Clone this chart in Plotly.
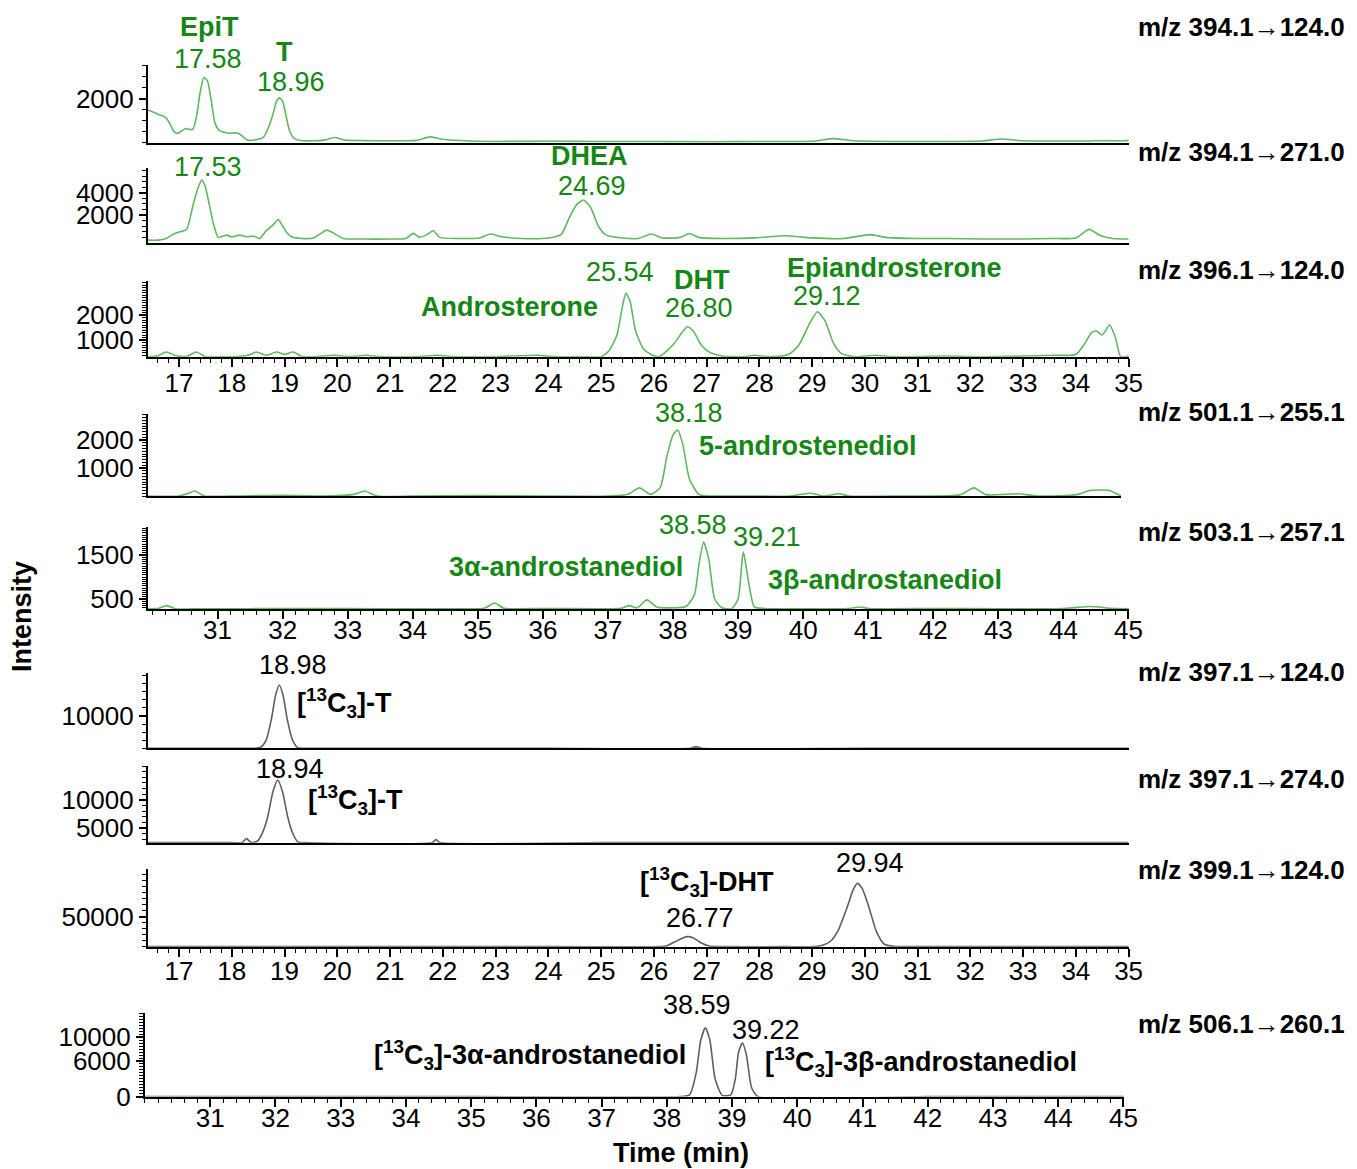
import plotly.graph_objects as go

# Reference picture size and how the page is photographed (body margin + slight downscale)
W, H = 1357, 1169
PAD = 8
CAP_W, CAP_H = 1370, 1184
SX, SY = W / CAP_W, H / CAP_H
FW, FH = CAP_W - 2 * PAD, CAP_H - 2 * PAD

# ---------------- data (time in min, intensity) ----------------
t1 = [16.41,16.55,16.64,16.73,16.82,16.90,16.98,17.06,17.13,17.20,17.26,17.33,17.40,17.47,17.54,17.61,17.68,17.76,17.85,17.95,18.05,18.12,18.20,18.30,18.45,18.60,18.70,18.78,18.85,18.90,18.96,19.03,19.10,19.18,19.30,19.50,19.75,19.95,20.15,20.50,21.00,21.50,21.75,22.00,22.50,23.00,24.00,25.00,26.00,27.00,28.00,29.00,29.40,29.80,30.50,31.50,32.20,32.60,33.00,33.70,34.20,34.60,34.90,35.00]
i1 = [1490,1350,1260,1180,900,520,430,560,650,600,620,1180,2300,2970,2800,1900,900,560,480,430,450,430,300,120,140,260,730,1300,1900,2040,1900,1200,500,200,100,90,120,240,120,100,90,110,270,160,80,60,70,60,60,50,60,70,190,90,60,60,80,170,90,80,80,100,90,110]

t2 = [16.41,16.60,16.76,16.90,17.02,17.14,17.27,17.35,17.43,17.50,17.57,17.65,17.74,17.82,17.90,18.00,18.15,18.28,18.41,18.53,18.66,18.78,18.88,18.97,19.05,19.13,19.32,19.55,19.80,19.92,20.11,20.50,21.00,21.30,21.44,21.56,21.70,21.82,21.94,22.30,22.70,22.90,23.10,23.50,24.00,24.25,24.40,24.55,24.67,24.80,24.95,25.10,25.40,25.70,25.96,26.15,26.50,26.68,26.85,27.30,27.90,28.50,29.00,29.60,30.10,30.40,31.00,31.60,32.20,32.60,33.00,33.50,34.00,34.25,34.45,34.70,35.00]
i2 = [-250,-250,-100,300,500,700,3000,4300,5140,4500,3000,1250,0,100,200,50,200,50,120,-100,650,1100,1600,950,400,50,-100,-50,650,410,-100,-150,-150,-100,360,0,250,590,0,-100,-50,300,80,-100,-50,300,1800,3000,3345,2700,1000,200,-50,-100,300,-50,0,350,0,-100,-50,150,-50,-100,250,0,-100,-100,-150,-150,-150,-100,-50,720,200,-100,-150]

t3 = [16.41,16.60,16.76,16.95,17.15,17.33,17.50,17.80,18.10,18.30,18.47,18.65,18.85,19.00,19.16,19.35,19.95,20.20,20.55,20.80,21.50,21.90,22.20,23.00,23.80,24.10,24.60,25.00,25.15,25.30,25.40,25.47,25.55,25.65,25.80,25.95,26.10,26.25,26.40,26.55,26.64,26.75,26.90,27.05,27.30,27.70,27.90,28.20,28.55,28.75,28.95,29.10,29.25,29.40,29.55,29.80,30.20,30.50,31.00,31.50,32.00,32.50,33.00,33.60,34.00,34.15,34.30,34.39,34.50,34.64,34.75,34.85,35.00]
i3 = [335,370,520,370,350,520,335,335,335,390,520,390,520,420,520,335,390,335,390,335,335,390,335,335,390,335,335,335,570,1200,2300,2868,2550,1400,650,420,335,570,900,1350,1532,1350,800,520,360,335,390,335,420,800,1650,2132,1750,900,470,335,390,335,335,360,335,335,360,390,420,800,1300,1360,1200,1600,1100,335,360]

t4 = [29.93,30.40,30.55,30.65,30.80,31.20,32.00,32.60,33.10,33.26,33.45,34.00,35.00,36.00,37.00,37.30,37.48,37.65,37.80,37.90,38.00,38.07,38.15,38.25,38.40,38.70,39.20,39.80,40.10,40.20,40.30,40.55,40.70,41.50,42.40,42.62,42.80,43.31,43.60,44.20,44.40,44.55,44.70,44.88]
i4 = [0,0,100,180,0,0,30,0,60,180,0,0,20,0,0,60,290,60,300,1400,2200,2357,1800,600,50,0,0,0,100,60,0,80,0,0,40,290,50,80,0,50,200,215,200,0]

t5 = [29.93,30.10,30.22,30.35,30.60,31.50,32.50,33.50,34.50,35.10,35.26,35.40,36.00,36.80,37.20,37.33,37.45,37.60,37.75,38.00,38.20,38.33,38.40,38.47,38.55,38.64,38.75,38.90,39.00,39.08,39.16,39.25,39.40,40.00,40.70,40.86,41.00,42.00,43.00,44.00,44.40,44.55,44.70,45.00]
i5 = [280,290,350,280,275,280,285,280,280,290,410,290,285,280,290,350,300,480,320,300,330,600,1300,1795,1400,500,300,280,500,1570,900,320,285,280,285,320,285,285,280,285,330,320,290,280]

t6 = [16.41,18.00,18.45,18.55,18.65,18.75,18.83,18.90,18.97,19.05,19.15,19.25,19.40,21.00,24.00,26.70,26.80,26.90,30.00,33.00,35.00]
i6 = [0,0,0,300,2500,9000,16500,19600,16500,9000,2500,200,0,0,0,0,500,0,0,0,0]

t7 = [16.41,18.00,18.20,18.28,18.36,18.48,18.58,18.68,18.78,18.87,18.96,19.06,19.15,19.25,19.40,21.80,21.87,21.95,25.00,30.00,35.00]
i7 = [2460,2460,2500,3200,2500,2700,4200,7000,11500,13530,11500,7000,4200,2600,2460,2460,3000,2460,2460,2460,2460]

t8 = [16.41,20.00,24.00,26.10,26.25,26.40,26.55,26.64,26.75,26.90,27.05,27.30,28.50,29.05,29.20,29.35,29.50,29.65,29.78,29.86,29.95,30.08,30.22,30.37,30.55,31.00,35.00]
i8 = [0,0,0,0,1500,8000,14500,16700,14500,6000,1000,0,0,0,2500,9000,28000,62000,95000,105700,97000,65000,25000,4000,500,0,0]

t9 = [30.0,35.0,38.20,38.35,38.45,38.52,38.59,38.66,38.74,38.85,38.98,39.05,39.10,39.16,39.22,39.30,39.40,42.0,45.0]
i9 = [0,0,0,300,4000,9500,11570,9500,3000,200,300,3000,7500,9040,7000,1500,0,0,0]

transitions = ["m/z 394.1→124.0", "m/z 394.1→271.0", "m/z 396.1→124.0",
               "m/z 501.1→255.1", "m/z 503.1→257.1", "m/z 397.1→124.0",
               "m/z 397.1→274.0", "m/z 399.1→124.0", "m/z 506.1→260.1"]

x_ticks_a = [17,18,19,20,21,22,23,24,25,26,27,28,29,30,31,32,33,34,35]
x_ticks_b = [31,32,33,34,35,36,37,38,39,40,41,42,43,44,45]

y_ticks = [[2000],[2000,4000],[1000,2000],[1000,2000],[500,1500],
           [10000],[5000,10000],[50000],[0,6000,10000]]

# ---------------- layout config ----------------
def px(x): return (x / SX - PAD) / FW
def py(y): return 1 - (y / SY - PAD) / FH

GREEN_LINE = "rgb(95,185,95)"
GREEN_TXT = "rgb(20,135,20)"
GRAY_LINE = "rgb(95,95,95)"
FONT = "Liberation Sans, Arial, sans-serif"
TXT = 27
TICK = 26

series = [(t1,i1),(t2,i2),(t3,i3),(t4,i4),(t5,i5),(t6,i6),(t7,i7),(t8,i8),(t9,i9)]
colors = [GREEN_LINE]*5 + [GRAY_LINE]*4
# (x_left, x_right, y_top, y_bottom) in reference pixels
boxes = [(148,1130,65,142.7),(148,1130,168.3,242.7),(148,1130,280.7,356.7),
         (148,1122,414,496),(148,1130,527,609),(148,1130,672.7,748.3),
         (148,1130,766,842.7),(148,1130,869.3,946.7),(145,1125,1013.3,1096.7)]
xranges = [[16.41,35.01]]*3 + [[29.93,44.88],[29.93,45.01]] + [[16.41,35.01]]*3 + [[30,45.01]]
yranges = [[0,3530],[-484,6190],[332,3372],[0,2930],[273,2136],
           [0,23400],[2456,16007],[0,129000],[0,14040]]
yminor = [500,500,100,100,50,2500,1000,10000,500]
xlabeled = [False,False,True,False,True,False,False,True,True]
xstandoff = [0,0,-6,0,-11,0,0,-8,-11]

fig = go.Figure()
layout = dict(width=FW, height=FH, margin=dict(l=0,r=0,t=0,b=0),
              paper_bgcolor="white", plot_bgcolor="white", showlegend=False,
              font=dict(family=FONT, size=TICK, color="black"))

for k in range(9):
    n = k + 1
    xs = "" if n == 1 else str(n)
    t, v = series[k]
    fig.add_trace(go.Scatter(x=t, y=v, mode="lines", xaxis="x"+xs, yaxis="y"+xs,
                             line=dict(color=colors[k], width=1.6, shape="spline", smoothing=0.6),
                             hoverinfo="skip", cliponaxis=True))
    l, r, tp, bt = boxes[k]
    xa = dict(domain=[px(l), px(r)], range=xranges[k], anchor="y"+xs,
              showline=True, linecolor="black", linewidth=2, showgrid=False, zeroline=False)
    if xlabeled[k]:
        tv = x_ticks_a if xranges[k][0] < 20 else x_ticks_b
        xa.update(tickmode="array", tickvals=tv, ticks="outside", ticklen=8, tickwidth=1.5,
                  tickcolor="black", tickfont=dict(size=TICK, color="black"),
                  ticklabelstandoff=xstandoff[k],
                  minor=dict(dtick=0.2, tick0=0, ticks="outside", ticklen=4, tickcolor="black", tickwidth=1))
    else:
        xa.update(showticklabels=False, ticks="")
    ya = dict(domain=[py(bt), py(tp)], range=yranges[k], anchor="x"+xs,
              showline=True, linecolor="black", linewidth=2, showgrid=False, zeroline=False,
              tickmode="array", tickvals=y_ticks[k], tickformat="d",
              ticks="outside", ticklen=7, tickwidth=1.5,
              tickcolor="black", tickfont=dict(size=TICK, color="black"),
              minor=dict(dtick=yminor[k], tick0=0, ticks="outside", ticklen=4, tickcolor="black", tickwidth=1))
    layout["xaxis"+xs] = xa
    layout["yaxis"+xs] = ya

fig.update_layout(**layout)

C13 = "[<sup>13</sup>C<sub>3</sub>]"
labels = [
    ("<b>EpiT</b>", 210, 27, GREEN_TXT), ("17.58", 208, 59, GREEN_TXT),
    ("<b>T</b>", 285, 52, GREEN_TXT), ("18.96", 291, 82, GREEN_TXT),
    ("17.53", 208, 167, GREEN_TXT), ("<b>DHEA</b>", 590, 156, GREEN_TXT), ("24.69", 592, 186, GREEN_TXT),
    ("25.54", 620, 272, GREEN_TXT), ("<b>DHT</b>", 703, 280, GREEN_TXT), ("26.80", 700, 308, GREEN_TXT),
    ("<b>Androsterone</b>", 510, 307, GREEN_TXT), ("<b>Epiandrosterone</b>", 895, 268, GREEN_TXT),
    ("29.12", 828, 296, GREEN_TXT),
    ("38.18", 690, 413, GREEN_TXT), ("<b>5-androstenediol</b>", 809, 446, GREEN_TXT),
    ("38.58", 694, 525, GREEN_TXT), ("39.21", 768, 537, GREEN_TXT),
    ("<b>3α-androstanediol</b>", 566, 567, GREEN_TXT), ("<b>3β-androstanediol</b>", 886, 580, GREEN_TXT),
    ("18.98", 293, 665, "black"), ("<b>" + C13 + "-T</b>", 345, 703, "black"),
    ("18.94", 290, 769, "black"), ("<b>" + C13 + "-T</b>", 356, 800, "black"),
    ("<b>" + C13 + "-DHT</b>", 708, 882, "black"), ("26.77", 701, 918, "black"),
    ("29.94", 871, 863, "black"),
    ("38.59", 698, 1005, "black"), ("39.22", 767, 1030, "black"),
    ("<b>" + C13 + "-3α-androstanediol</b>", 530, 1055, "black"),
    ("<b>" + C13 + "-3β-androstanediol</b>", 922, 1062, "black"),
]
for text, x, y, c in labels:
    fig.add_annotation(text=text, x=px(x), y=py(y), xref="paper", yref="paper",
                       showarrow=False, xanchor="center", yanchor="middle",
                       font=dict(size=TXT, color=c, family=FONT))

mz_y = [27, 152, 270, 412, 532, 672, 779, 870, 1024]
for text, y in zip(transitions, mz_y):
    fig.add_annotation(text="<b>" + text + "</b>", x=px(1137), y=py(y), xref="paper", yref="paper",
                       showarrow=False, xanchor="left", yanchor="middle",
                       font=dict(size=26, color="black", family=FONT))

fig.add_annotation(text="<b>Intensity</b>", x=px(22), y=py(617), xref="paper", yref="paper",
                   showarrow=False, textangle=-90, xanchor="center", yanchor="middle",
                   font=dict(size=27, color="black", family=FONT))
fig.add_annotation(text="<b>Time (min)</b>", x=px(682), y=py(1153), xref="paper", yref="paper",
                   showarrow=False, xanchor="center", yanchor="middle",
                   font=dict(size=27, color="black", family=FONT))

fig.write_html("out.html")
